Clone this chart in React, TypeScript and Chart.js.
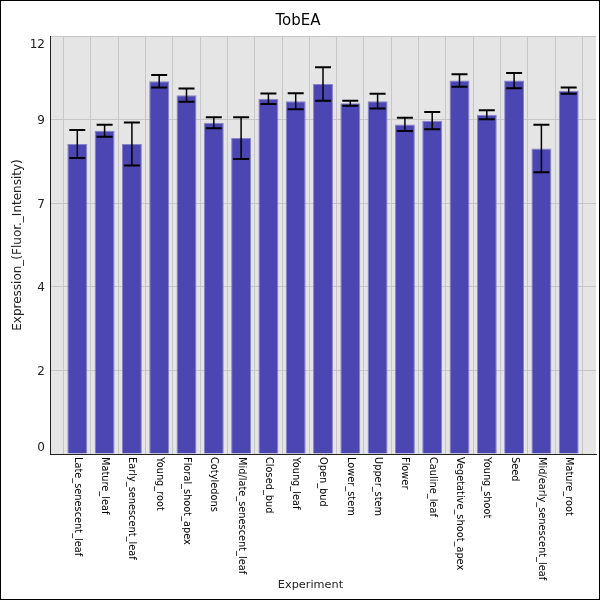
import React, { useEffect, useRef } from 'react';
import { Chart, registerables } from 'chart.js';

Chart.register(...registerables);

const categories = [
    'Late_senescent_leaf', 'Mature_leaf', 'Early_senescent_leaf', 'Young_root',
    'Floral_shoot_apex', 'Cotyledons', 'Mid/late_senescent_leaf', 'Closed_bud',
    'Young_leaf', 'Open_bud', 'Lower_stem', 'Upper_stem', 'Flower', 'Cauline_leaf',
    'Vegetative_shoot_apex', 'Young_shoot', 'Seed', 'Mid/early_senescent_leaf', 'Mature_root',
];
const means = [
    8.9, 9.28, 8.9, 10.7, 10.3, 9.51, 9.07, 10.2, 10.13, 10.62,
    10.07, 10.13, 9.46, 9.57, 10.72, 9.74, 10.72, 8.77, 10.43,
];
const errors = [
    0.4, 0.17, 0.62, 0.18, 0.19, 0.16, 0.6, 0.15, 0.23, 0.48,
    0.07, 0.21, 0.19, 0.25, 0.18, 0.13, 0.22, 0.68, 0.09,
];
const yTickValues = [0, 2.4, 4.8, 7.2, 9.6, 12];
const yTickLabels = ['0', '2', '4', '7', '9', '12'];
const xTitle = 'Experiment';

const FONT = 'DejaVu Sans';
const LABEL_SIZE = 9.8;

const decor = {
    id: 'decor',
    beforeDraw(chart: any) {
        const { ctx, chartArea: a, width, height } = chart;
        ctx.save();
        ctx.fillStyle = '#ffffff';
        ctx.fillRect(0, 0, width, height);
        ctx.fillStyle = '#e5e5e5';
        ctx.fillRect(a.left, a.top, a.right - a.left, a.bottom - a.top);
        ctx.restore();
    },
    afterDatasetsDraw(chart: any) {
        const { ctx, scales } = chart;
        const xs = scales.x, ys = scales.y;
        ctx.save();
        ctx.strokeStyle = '#000';
        means.forEach((m, i) => {
            const x = xs.getPixelForValue(i + 1);
            const top = ys.getPixelForValue(m + errors[i]);
            const bot = ys.getPixelForValue(m - errors[i]);
            ctx.lineWidth = 1.5;
            ctx.beginPath();
            ctx.moveTo(x, top);
            ctx.lineTo(x, bot);
            ctx.stroke();
            ctx.lineWidth = 2;
            ctx.beginPath();
            ctx.moveTo(x - 8, top);
            ctx.lineTo(x + 8, top);
            ctx.moveTo(x - 8, bot);
            ctx.lineTo(x + 8, bot);
            ctx.stroke();
        });
        ctx.restore();
    },
    afterDraw(chart: any) {
        const { ctx, scales, width, height } = chart;
        const xs = scales.x, ys = scales.y;
        ctx.save();
        // x labels read top to bottom
        ctx.fillStyle = '#000';
        ctx.font = `${LABEL_SIZE}px "${FONT}"`;
        ctx.textAlign = 'left';
        ctx.textBaseline = 'middle';
        categories.forEach((c, i) => {
            ctx.save();
            ctx.translate(xs.getPixelForValue(i + 1), xs.top + 3);
            ctx.rotate(Math.PI / 2);
            ctx.fillText(c, 0, 0);
            ctx.restore();
        });
        // y labels, kept inside the plot height
        ctx.fillStyle = '#222';
        ctx.font = `12px "${FONT}"`;
        ctx.textAlign = 'right';
        yTickValues.forEach((v, i) => {
            const y = Math.min(Math.max(ys.getPixelForValue(v) + 1.5, ys.top + 8.5), ys.bottom - 6);
            ctx.fillText(yTickLabels[i], ys.right - 5, y);
        });
        ctx.font = `11.3px "${FONT}"`;
        ctx.textAlign = 'center';
        ctx.fillText(xTitle, 310.5, 585);
        ctx.strokeStyle = '#000';
        ctx.lineWidth = 1;
        ctx.strokeRect(0.5, 0.5, width - 1, height - 1);
        ctx.restore();
    },
};

const App: React.FC = () => {
    const canvasRef = useRef<HTMLCanvasElement>(null);

    useEffect(() => {
        document.body.style.margin = '0';
        if (!canvasRef.current) return;
        const ctx = canvasRef.current.getContext('2d');
        if (!ctx) return;

        Chart.defaults.font.family = FONT;

        const chart = new Chart(ctx, {
            type: 'bar',
            data: {
                datasets: [{
                    label: 'TobEA',
                    data: means.map((m, i) => ({ x: i + 1, y: m })),
                    backgroundColor: '#4b46b1',
                    borderColor: '#8582cb',
                    borderWidth: 1,
                    categoryPercentage: 1,
                    barPercentage: 0.73,
                }],
            },
            options: {
                responsive: false,
                animation: false,
                layout: { padding: { left: 0, right: 4, top: 0, bottom: 3 } },
                plugins: {
                    legend: { display: false },
                    tooltip: { enabled: false },
                    title: {
                        display: true,
                        text: 'TobEA',
                        color: '#000',
                        font: { size: 15, weight: 'normal' },
                        padding: { top: 12, bottom: 6 },
                    },
                },
                scales: {
                    x: {
                        type: 'linear',
                        offset: false,
                        min: 0,
                        max: categories.length + 1,
                        afterBuildTicks: (scale: any) => {
                            scale.ticks = Array.from({ length: categories.length + 2 }, (_, i) => ({ value: i }));
                        },
                        afterFit: (scale: any) => {
                            scale.height = 143;
                        },
                        ticks: {
                            autoSkip: false,
                            minRotation: 90,
                            maxRotation: 90,
                            padding: 3,
                            color: 'rgba(0,0,0,0)',
                            font: { size: LABEL_SIZE },
                            callback: (v: any) => categories[Number(v) - 1] ?? null,
                        },
                        grid: { color: '#c6c6c6', drawTicks: false },
                        border: { display: true, color: '#222', width: 1 },
                        title: { display: false, text: xTitle },
                    },
                    y: {
                        min: 0,
                        max: 12,
                        afterBuildTicks: (scale: any) => {
                            scale.ticks = yTickValues.map(v => ({ value: v }));
                        },
                        afterFit: (scale: any) => {
                            scale.width = 50;
                        },
                        ticks: {
                            padding: 6,
                            color: 'rgba(0,0,0,0)',
                            font: { size: 12 },
                            callback: (_v: any, i: number) => yTickLabels[i],
                        },
                        grid: { color: '#c6c6c6', drawTicks: false },
                        border: { display: true, color: '#222', width: 1 },
                        title: {
                            display: true,
                            text: 'Expression_(Fluor._Intensity)',
                            color: '#222',
                            font: { size: 12 },
                            padding: { top: 11, bottom: 3 },
                        },
                    },
                },
            },
            plugins: [decor],
        });

        return () => {
            chart.destroy();
        };
    }, []);

    return <canvas ref={canvasRef} width={600} height={600}></canvas>;
};

export default App;
